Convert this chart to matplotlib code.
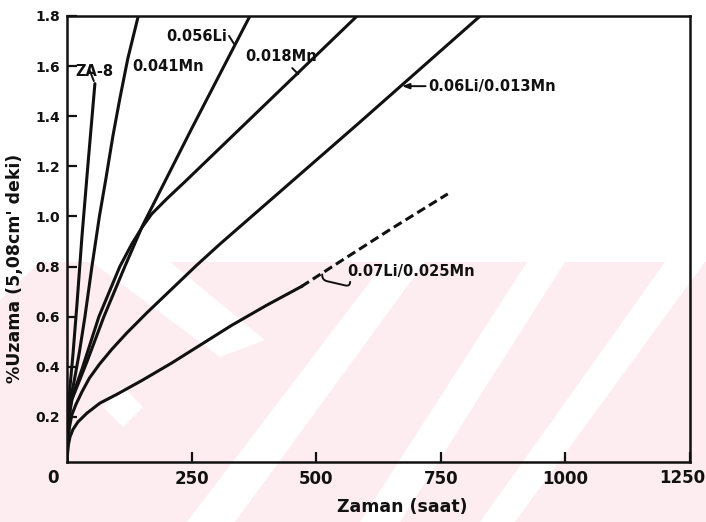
import matplotlib
matplotlib.use("Agg")
import matplotlib.pyplot as plt
from matplotlib.patches import Polygon

# creep curves (time in hours, strain in %)
za8_t = [0, 2, 6, 12, 20, 30, 43, 56]
za8_e = [0.02, 0.20, 0.32, 0.45, 0.65, 0.92, 1.23, 1.53]

mn041_t = [0, 3, 8, 15, 25, 36, 50, 65, 78, 92, 106, 122, 143]
mn041_e = [0.02, 0.20, 0.28, 0.35, 0.46, 0.60, 0.80, 1.00, 1.15, 1.32, 1.47, 1.63, 1.80]

li056_t = [0, 4, 10, 18, 40, 74, 116, 152, 250, 367]
li056_e = [0.02, 0.20, 0.27, 0.31, 0.42, 0.60, 0.80, 0.965, 1.35, 1.80]

mn018_t = [0, 3, 8, 14, 30, 64, 106, 130, 150, 170, 200, 240, 582]
mn018_e = [0.02, 0.18, 0.26, 0.30, 0.39, 0.60, 0.80, 0.89, 0.955, 1.01, 1.07, 1.145, 1.80]

li06_t = [0, 2, 5, 10, 18, 30, 45, 65, 90, 120, 160, 210, 260, 307, 584, 829]
li06_e = [0.02, 0.10, 0.16, 0.21, 0.25, 0.30, 0.355, 0.41, 0.47, 0.535, 0.615, 0.71,
          0.805, 0.89, 1.37, 1.80]

li07_t = [0, 2, 6, 12, 22, 40, 66, 100, 150, 210, 270, 330, 400, 470]
li07_e = [0.02, 0.08, 0.12, 0.15, 0.18, 0.215, 0.255, 0.29, 0.345, 0.415, 0.49, 0.565,
          0.645, 0.72]
li07_dash_t = [470, 548, 650, 764]
li07_dash_e = [0.72, 0.82, 0.95, 1.09]

x_ticks = [250, 500, 750, 1000, 1250]
x_labels = ["250", "500", "750", "1000", ""]
y_ticks = [0.2, 0.4, 0.6, 0.8, 1.0, 1.2, 1.4, 1.6, 1.8]

W, H = 706, 522
fig = plt.figure(figsize=(W / 100, H / 100), dpi=100)


def px(x, y):
    # pixel position (top-left origin) -> figure fraction
    return (x / W, 1 - y / H)


# faint pink watermark in the lower half of the scan
pink = "#fdedf0"
fig.patches.append(Polygon([px(0, 262), px(W, 262), px(W, H), px(0, H)],
                           closed=True, transform=fig.transFigure,
                           facecolor=pink, edgecolor="none", zorder=-10))
stripes = [
    [(187, 522), (235, 522), (425, 262), (385, 262)],
    [(360, 522), (400, 522), (565, 262), (527, 262)],
    [(480, 522), (515, 522), (705, 262), (665, 262)],
    [(0, 262), (40, 262), (0, 300)],
    [(92, 262), (170, 262), (265, 340), (220, 357)],
    [(103, 407), (123, 387), (143, 407), (123, 427)],
]
for s in stripes:
    fig.patches.append(Polygon([px(a, b) for a, b in s], closed=True,
                               transform=fig.transFigure, facecolor="white",
                               edgecolor="none", zorder=-9))

ax = fig.add_axes([67 / W, 1 - 462 / H, 623 / W, 446 / H])
ax.set_facecolor("none")

lw = 2.2
ink = "#111111"
ax.plot(za8_t, za8_e, color=ink, lw=lw, solid_capstyle="round")
ax.plot(mn041_t, mn041_e, color=ink, lw=lw)
ax.plot(li056_t, li056_e, color=ink, lw=lw)
ax.plot(mn018_t, mn018_e, color=ink, lw=lw)
ax.plot(li06_t, li06_e, color=ink, lw=lw)
ax.plot(li07_t, li07_e, color=ink, lw=lw)
ax.plot(li07_dash_t, li07_dash_e, color=ink, lw=lw, ls=(0, (3, 1.5)))

ax.set_xlim(0, 1250)
ax.set_ylim(0.02, 1.8)
ax.set_xticks(x_ticks)
ax.set_xticklabels(x_labels)
ax.set_yticks(y_ticks)
ax.set_yticklabels([f"{v:.1f}" for v in y_ticks])
ax.tick_params(direction="in", length=7, width=1.6, colors=ink)
ax.tick_params(axis="x", labelsize=12, pad=6)
ax.tick_params(axis="y", labelsize=10, pad=5)
for lab in ax.get_xticklabels() + ax.get_yticklabels():
    lab.set_fontweight("bold")
for sp in ax.spines.values():
    sp.set_linewidth(1.8)
    sp.set_color(ink)

# corner labels placed by hand (scan shows them offset)
ax.text(-0.022, -0.036, "0", transform=ax.transAxes, ha="center", va="center",
        fontsize=12, fontweight="bold", color=ink)
ax.text(1.024, -0.036, "1250", transform=ax.transAxes, ha="right", va="center",
        fontsize=12, fontweight="bold", color=ink)

ax.set_xlabel("Zaman (saat)", fontsize=12.5, fontweight="bold", color=ink)
ax.xaxis.set_label_coords(0.538, -0.08)
ax.set_ylabel("%Uzama (5,08cm' deki)", fontsize=12.5, fontweight="bold", color=ink)
ax.yaxis.set_label_coords(-0.069, 0.435)

fs = 10.5
ax.text(16, 1.58, "ZA-8", fontsize=fs, fontweight="bold", color=ink, va="center")
ax.annotate("", xy=(56, 1.53), xytext=(42, 1.6),
            arrowprops=dict(arrowstyle="-", color=ink, lw=1.4))
ax.text(131, 1.6, "0.041Mn", fontsize=fs, fontweight="bold", color=ink, va="center")
ax.text(200, 1.72, "0.056Li", fontsize=fs, fontweight="bold", color=ink, va="center")
ax.annotate("", xy=(338, 1.68), xytext=(322, 1.73),
            arrowprops=dict(arrowstyle="-", color=ink, lw=1.4))
ax.text(357, 1.64, "0.018Mn", fontsize=fs, fontweight="bold", color=ink, va="center")
ax.annotate("", xy=(468, 1.56), xytext=(448, 1.6),
            arrowprops=dict(arrowstyle="-", color=ink, lw=1.4))
ax.annotate("0.06Li/0.013Mn", xy=(672, 1.52), xytext=(725, 1.52),
            fontsize=fs, fontweight="bold", color=ink, va="center",
            arrowprops=dict(arrowstyle="-|>,head_length=0.4,head_width=0.15",
                            color=ink, lw=1.4, shrinkA=0, shrinkB=0))
ax.annotate("0.07Li/0.025Mn", xy=(512, 0.774), xytext=(563, 0.78),
            fontsize=fs, fontweight="bold", color=ink, va="center",
            arrowprops=dict(arrowstyle="-", color=ink, lw=1.4, shrinkA=0,
                            shrinkB=1, relpos=(0.02, 0.1),
                            connectionstyle="arc,angleA=-90,armA=9,angleB=-90,armB=7,rad=5"))

fig.savefig("out.png", dpi=100)
